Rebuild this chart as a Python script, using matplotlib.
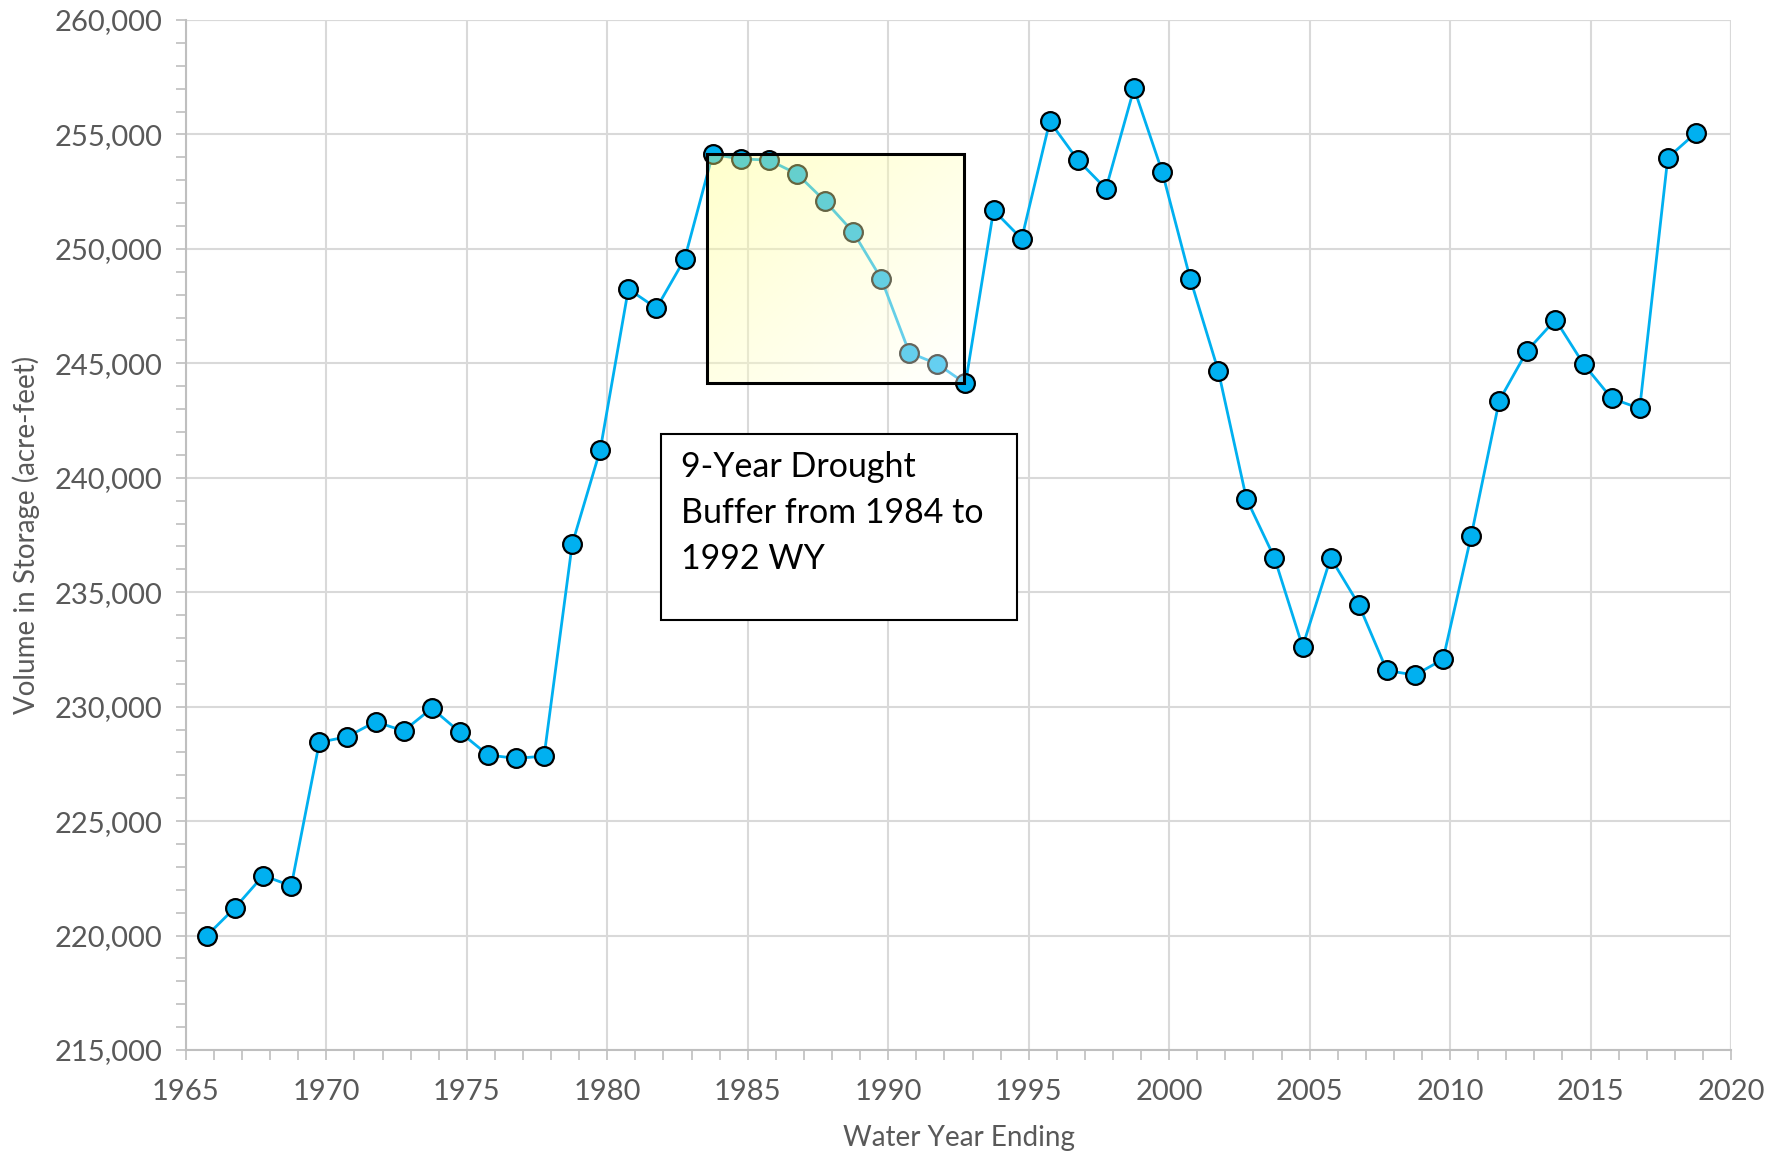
import numpy as np
import matplotlib
matplotlib.use("Agg")
import matplotlib.pyplot as plt
from matplotlib.patches import Rectangle
from matplotlib.ticker import MultipleLocator, FuncFormatter

plt.rcParams['font.family'] = ['Lato', 'DejaVu Sans']

# water year ending (plotted at end of September)
years = list(range(1965, 2019))
storage = [220000, 221220, 222620, 222170, 228440, 228690, 229340, 228940, 229930, 228890,
           227890, 227740, 227840, 237100, 241230, 248250, 247410, 249550, 254130, 253930,
           253880, 253280, 252090, 250740, 248700, 245470, 244970, 244120, 251690, 250440,
           255570, 253880, 252630, 257010, 253380, 248700, 244670, 239090, 236500, 232620,
           236500, 234460, 231580, 231380, 232070, 237450, 243370, 245560, 246910, 244970,
           243470, 243030, 253980, 255070]
x = np.array(years) + 0.75

buffer_box = (1983.55, 1992.7, 244150, 254150)   # x0, x1, y0, y1
note_box = (1981.9, 1994.6, 233800, 241930)
note_text = "9-Year Drought\nBuffer from 1984 to\n1992 WY"

gray = '#595959'
fig = plt.figure(figsize=(17.86, 11.57), dpi=100)
ax = fig.add_axes([0.1041, 0.0925, 0.8651, 0.8902])

ax.plot(x, storage, color='#00b0f0', lw=2.0, marker='o', ms=13.5,
        mfc='#00b0f0', mec='black', mew=1.6, zorder=3)

ax.set_xlim(1965, 2020)
ax.set_ylim(215000, 260000)
ax.xaxis.set_major_locator(MultipleLocator(5))
ax.xaxis.set_minor_locator(MultipleLocator(1))
ax.yaxis.set_major_locator(MultipleLocator(5000))
ax.yaxis.set_minor_locator(MultipleLocator(1000))
ax.yaxis.set_major_formatter(FuncFormatter(lambda v, p: f"{v:,.0f}"))
ax.grid(True, which='major', color='#d9d9d9', lw=1.5, zorder=0)
ax.set_axisbelow(True)
for s in ['top', 'right']:
    ax.spines[s].set_visible(False)
for s in ['left', 'bottom']:
    ax.spines[s].set_color('#bfbfbf')
    ax.spines[s].set_linewidth(1.5)
ax.tick_params(which='both', direction='out', color='#bfbfbf', width=1.2,
               labelsize=21, labelcolor=gray)
ax.tick_params(which='major', length=7)
ax.tick_params(which='minor', length=7)
ax.tick_params(axis='x', which='major', pad=14)
ax.tick_params(axis='y', which='major', pad=10)

ax.set_xlabel('Water Year Ending', fontsize=20, color=gray, labelpad=14)
ax.set_ylabel('Volume in Storage (acre-feet)', fontsize=20, color=gray, labelpad=10)

# translucent gradient over the drought buffer years
x0, x1, y0, y1 = buffer_box
n = 200
gx, gy = np.meshgrid(np.linspace(0, 1, n), np.linspace(0, 1, n))
t = np.clip((gx + gy) / 2, 0, 1)
img = np.zeros((n, n, 4))
img[..., 0] = 1.0
img[..., 1] = 1.0
img[..., 2] = 0.5 + 0.5 * t
img[..., 3] = 0.4
ax.imshow(img, extent=(x0, x1, y0, y1), origin='upper', aspect='auto',
          interpolation='bilinear', zorder=4)
ax.add_patch(Rectangle((x0, y0), x1 - x0, y1 - y0, fill=False,
                       ec='black', lw=2.2, zorder=5))

bx0, bx1, by0, by1 = note_box
ax.add_patch(Rectangle((bx0, by0), bx1 - bx0, by1 - by0, fc='white',
                       ec='black', lw=1.5, zorder=5))
ax.text(bx0 + 0.72, by1 - 750, note_text, fontsize=24.5, color='black',
        va='top', ha='left', linespacing=1.55, zorder=6)

ax.set_xlim(1965, 2020)
ax.set_ylim(215000, 260000)
# top/right gridlines at limits
ax.axhline(260000, color='#d9d9d9', lw=1.5, zorder=0)
ax.axvline(2020, color='#d9d9d9', lw=1.5, zorder=0)

fig.savefig('out.png', dpi=100)
